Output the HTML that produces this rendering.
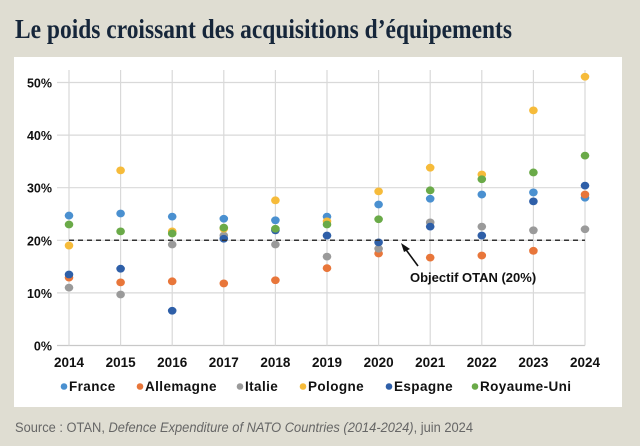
<!DOCTYPE html>
<html><head><meta charset="utf-8"><style>
html,body{margin:0;padding:0;background:#dfddd2;}
svg{display:block;}
</style></head><body>
<svg id="chart" width="640" height="446" viewBox="0 0 640 446" xmlns="http://www.w3.org/2000/svg">
<rect x="0" y="0" width="640" height="446" fill="#dfddd2"/>
<text x="15" y="38" font-family="Liberation Serif, serif" font-weight="bold" font-size="27" fill="#16263a" textLength="497" lengthAdjust="spacingAndGlyphs">Le poids croissant des acquisitions d’équipements</text>
<rect x="14" y="57" width="608" height="350" fill="#ffffff"/>
<g id="grid"></g>
<g id="marks"></g>
<g id="target"></g>
<g id="axes"></g>
<g id="legend"></g>
<text x="15" y="432" font-family="Liberation Sans, sans-serif" font-size="13.5" fill="#666" textLength="458" lengthAdjust="spacingAndGlyphs">Source : OTAN, <tspan font-style="italic">Defence Expenditure of NATO Countries (2014-2024)</tspan>, juin 2024</text>
</svg>
<script>
const years = [2014,2015,2016,2017,2018,2019,2020,2021,2022,2023,2024];
const yTicks = [0,10,20,30,40,50];
const seriesNames = ["France","Allemagne","Italie","Pologne","Espagne","Royaume-Uni"];
const france    = [24.7,25.1,24.5,24.1,23.8,24.5,26.8,27.9,28.7,29.1,28.1];
const allemagne = [12.9,12.0,12.2,11.8,12.4,14.7,17.5,16.7,17.1,18.0,28.7];
const italie    = [11.0,9.7,19.2,20.9,19.2,16.9,18.4,23.4,22.6,21.9,22.1];
const pologne   = [19.0,33.3,21.7,22.2,27.6,23.6,29.3,33.8,32.5,44.7,51.1];
const espagne   = [13.5,14.6,6.6,20.3,21.9,20.9,19.6,22.6,20.9,27.4,30.4];
const royaumeUni= [23.0,21.7,21.3,22.4,22.2,23.0,24.0,29.5,31.6,32.9,36.1];
const targetValue = 20;

const colors = ["#4a90d0","#e8763a","#9a9a9a","#f6bb3a","#2e5fa8","#6aaa48"];
const allSeries = [france,allemagne,italie,pologne,espagne,royaumeUni];
const NS="http://www.w3.org/2000/svg";
const x0=69, x1=585, yBase=345.5, yTop=82.5;
const xs = i => x0 + (x1-x0)*i/(years.length-1);
const ys = v => yBase - (yBase-yTop)*v/50;
function mk(tag, attrs, parent){const e=document.createElementNS(NS,tag);for(const k in attrs)e.setAttribute(k,attrs[k]);parent.appendChild(e);return e;}
const grid=document.getElementById('grid'), axes=document.getElementById('axes'), marks=document.getElementById('marks'), legend=document.getElementById('legend'), target=document.getElementById('target');

yTicks.forEach(t=>{
  const l=mk('line',{x1:57,x2:x1,y1:ys(t),y2:ys(t),stroke:t===0?'#c8c8c8':'#d9d9d9','stroke-width':1.2},grid);
  
  
  const tx=mk('text',{x:52,y:ys(t)+5,'text-anchor':'end','font-family':'Liberation Sans, sans-serif','font-weight':'bold','font-size':12.5,fill:'#111'},axes);
  tx.textContent=t+'%';
  
  
});
years.forEach((y,i)=>{
  const l=mk('line',{x1:xs(i),x2:xs(i),y1:70,y2:yBase,stroke:'#d9d9d9','stroke-width':1.2},grid);
  
  
  const tx=mk('text',{x:xs(i),y:367,'text-anchor':'middle','font-family':'Liberation Sans, sans-serif','font-weight':'bold','font-size':13.5,fill:'#111'},axes);
  tx.textContent=y;
  
  
});
const tl=mk('line',{x1:x0,x2:x1,y1:ys(targetValue),y2:ys(targetValue),stroke:'#333','stroke-width':1.5,'stroke-dasharray':'5,4'},target);



allSeries.forEach((s,si)=>{
  s.forEach((v,i)=>{
    const c=mk('ellipse',{cx:xs(i),cy:ys(v),rx:4.3,ry:3.9,fill:colors[si]},marks);
    
    
  });
});
const ar=mk('line',{x1:418,x2:404,y1:266,y2:247,stroke:'#111','stroke-width':1.6},target);


const ah=mk('polygon',{points:'401,243 410,249 404,252',fill:'#111'},target);


const at=mk('text',{x:410,y:282,'font-family':'Liberation Sans, sans-serif','font-weight':'bold','font-size':13,fill:'#111'},target);
at.textContent='Objectif OTAN (20%)';



const legX=[64,140,240,303,389,475];
seriesNames.forEach((n,i)=>{
  const g=mk('g',{},legend);
  
  
  mk('circle',{cx:legX[i],cy:386.5,r:3.3,fill:colors[i]},g);
  const t=mk('text',{x:legX[i]+5,y:391,'font-family':'Liberation Sans, sans-serif','font-weight':'bold','font-size':13.5,fill:'#111','letter-spacing':'0.4'},g);
  t.textContent=n;
});
</script>
</body></html>
